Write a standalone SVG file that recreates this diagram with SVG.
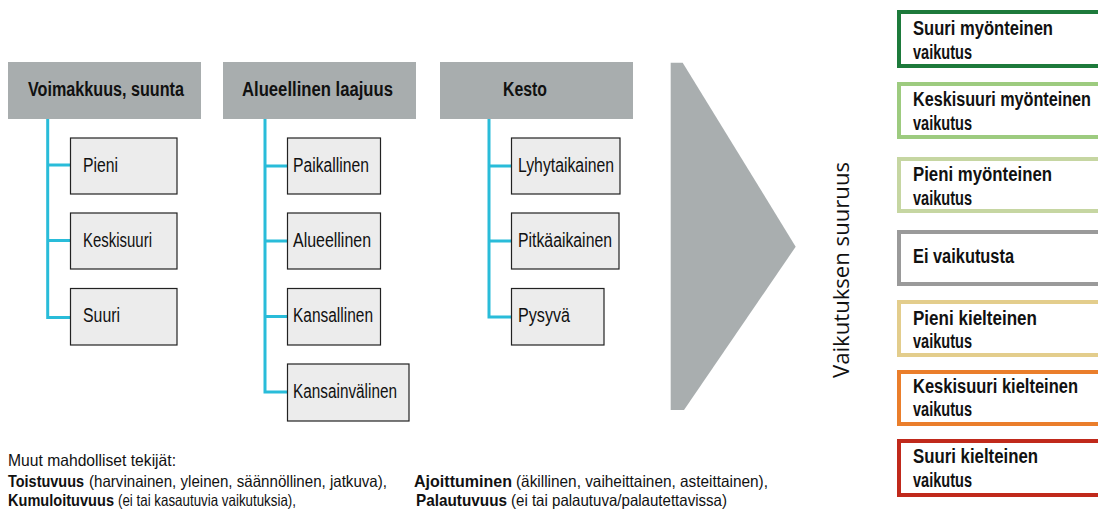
<svg xmlns="http://www.w3.org/2000/svg" width="1098" height="520" viewBox="0 0 1098 520">
<style>
.hdr{fill:#a8adae}
.ht{font-family:"Liberation Sans",Arial,sans-serif;font-weight:bold;font-size:19.5px;fill:#111}
.cb{fill:#ececec;stroke:#222;stroke-width:1.2}
.ct{font-family:"Liberation Sans",Arial,sans-serif;font-size:19.5px;fill:#111}
.conn{fill:none;stroke:#29bcd9;stroke-width:3}
.rb{fill:#fff;stroke-width:4}
.rt{font-family:"Liberation Sans",Arial,sans-serif;font-weight:bold;font-size:19.5px;fill:#111}
.bt{font-family:"Liberation Sans",Arial,sans-serif;font-size:16.5px;fill:#111}
.bb{font-family:"Liberation Sans",Arial,sans-serif;font-weight:bold;font-size:16.5px;fill:#111}
</style>
<rect width="1098" height="520" fill="#fff"/>
<g id="connectors">
<path class="conn" d="M47.7 119V317.5H70M47.7 165H70M47.7 240.5H70"/>
<path class="conn" d="M265 119V392H287M265 166H287M265 241H287M265 316.5H287"/>
<path class="conn" d="M489 119V317H511M489 166H511M489 241H511"/>
</g>
<g id="h1"><rect class="hdr" x="8" y="62" width="193" height="57"/><text class="ht" x="28" y="95.5" textLength="156" lengthAdjust="spacingAndGlyphs">Voimakkuus, suunta</text></g>
<g id="h2"><rect class="hdr" x="223" y="62" width="193" height="57"/><text class="ht" x="242" y="95.5" textLength="151" lengthAdjust="spacingAndGlyphs">Alueellinen laajuus</text></g>
<g id="h3"><rect class="hdr" x="440" y="62" width="193" height="57"/><text class="ht" x="503" y="95.5" textLength="44" lengthAdjust="spacingAndGlyphs">Kesto</text></g>
<g id="c1a"><rect class="cb" x="70.5" y="138" width="106.5" height="56"/><text class="ct" x="83" y="172" textLength="35" lengthAdjust="spacingAndGlyphs">Pieni</text></g>
<g id="c1b"><rect class="cb" x="70.5" y="213" width="106.5" height="56"/><text class="ct" x="83" y="247" textLength="69" lengthAdjust="spacingAndGlyphs">Keskisuuri</text></g>
<g id="c1c"><rect class="cb" x="70.5" y="288.5" width="106.5" height="56.5"/><text class="ct" x="83" y="322" textLength="37" lengthAdjust="spacingAndGlyphs">Suuri</text></g>
<g id="c2a"><rect class="cb" x="287.5" y="138" width="93" height="56"/><text class="ct" x="293" y="172" textLength="76" lengthAdjust="spacingAndGlyphs">Paikallinen</text></g>
<g id="c2b"><rect class="cb" x="287.5" y="213" width="93" height="56"/><text class="ct" x="293" y="247" textLength="78" lengthAdjust="spacingAndGlyphs">Alueellinen</text></g>
<g id="c2c"><rect class="cb" x="287.5" y="288.5" width="93" height="56.5"/><text class="ct" x="293" y="322" textLength="80" lengthAdjust="spacingAndGlyphs">Kansallinen</text></g>
<g id="c2d"><rect class="cb" x="287.5" y="364" width="121.5" height="57"/><text class="ct" x="293" y="398" textLength="104" lengthAdjust="spacingAndGlyphs">Kansainvälinen</text></g>
<g id="c3a"><rect class="cb" x="511.5" y="138" width="108.5" height="56"/><text class="ct" x="518" y="172" textLength="96" lengthAdjust="spacingAndGlyphs">Lyhytaikainen</text></g>
<g id="c3b"><rect class="cb" x="511.5" y="213" width="107.5" height="56"/><text class="ct" x="518" y="247" textLength="94" lengthAdjust="spacingAndGlyphs">Pitkäaikainen</text></g>
<g id="c3c"><rect class="cb" x="511.5" y="288.5" width="92.5" height="56.5"/><text class="ct" x="518" y="322" textLength="52" lengthAdjust="spacingAndGlyphs">Pysyvä</text></g>
<g id="arrow"><polygon points="670.7,62.7 682.7,62.7 795.7,246.7 684,410 670.7,410" fill="#a9aeaf"/></g>
<g id="axis"><text transform="translate(849,270) rotate(-90)" text-anchor="middle" font-family="'Open Sans','DejaVu Sans',sans-serif" font-size="22" fill="#111" textLength="216" lengthAdjust="spacingAndGlyphs">Vaikutuksen suuruus</text></g>
<g id="r1"><rect class="rb" x="899" y="12" width="220" height="54" stroke="#1d7a3b"/><text class="rt" x="913" y="35" textLength="140" lengthAdjust="spacingAndGlyphs">Suuri myönteinen</text><text class="rt" x="913" y="59" textLength="59" lengthAdjust="spacingAndGlyphs">vaikutus</text></g>
<g id="r2"><rect class="rb" x="899" y="84" width="220" height="53" stroke="#9dcb7f"/><text class="rt" x="913" y="106" textLength="178" lengthAdjust="spacingAndGlyphs">Keskisuuri myönteinen</text><text class="rt" x="913" y="130" textLength="59" lengthAdjust="spacingAndGlyphs">vaikutus</text></g>
<g id="r3"><rect class="rb" x="899" y="159" width="220" height="52" stroke="#c6d6a2"/><text class="rt" x="913" y="181" textLength="139" lengthAdjust="spacingAndGlyphs">Pieni myönteinen</text><text class="rt" x="913" y="205" textLength="59" lengthAdjust="spacingAndGlyphs">vaikutus</text></g>
<g id="r4"><rect class="rb" x="899" y="232" width="220" height="52" stroke="#9a9a9a"/><text class="rt" x="913" y="263" textLength="101" lengthAdjust="spacingAndGlyphs">Ei vaikutusta</text></g>
<g id="r5"><rect class="rb" x="899" y="302" width="220" height="53" stroke="#e3cd8c"/><text class="rt" x="913" y="325" textLength="124" lengthAdjust="spacingAndGlyphs">Pieni kielteinen</text><text class="rt" x="913" y="348" textLength="59" lengthAdjust="spacingAndGlyphs">vaikutus</text></g>
<g id="r6"><rect class="rb" x="899" y="372" width="220" height="52" stroke="#ea7e2b"/><text class="rt" x="913" y="393" textLength="165" lengthAdjust="spacingAndGlyphs">Keskisuuri kielteinen</text><text class="rt" x="913" y="416" textLength="59" lengthAdjust="spacingAndGlyphs">vaikutus</text></g>
<g id="r7"><rect class="rb" x="899" y="441" width="220" height="54" stroke="#c0291b"/><text class="rt" x="913" y="463" textLength="125" lengthAdjust="spacingAndGlyphs">Suuri kielteinen</text><text class="rt" x="913" y="487" textLength="59" lengthAdjust="spacingAndGlyphs">vaikutus</text></g>
<g id="notes">
<text class="bt" x="8" y="466" textLength="168" lengthAdjust="spacingAndGlyphs">Muut mahdolliset tekijät:</text>
<text class="bb" x="8" y="487" textLength="76" lengthAdjust="spacingAndGlyphs">Toistuvuus</text>
<text class="bt" x="89" y="487" textLength="298" lengthAdjust="spacingAndGlyphs">(harvinainen, yleinen, säännöllinen, jatkuva),</text>
<text class="bb" x="8" y="506" textLength="106" lengthAdjust="spacingAndGlyphs">Kumuloituvuus</text>
<text class="bt" x="118" y="506" textLength="178" lengthAdjust="spacingAndGlyphs">(ei tai kasautuvia vaikutuksia),</text>
<text class="bb" x="414" y="487" textLength="98" lengthAdjust="spacingAndGlyphs">Ajoittuminen</text>
<text class="bt" x="516" y="487" textLength="252" lengthAdjust="spacingAndGlyphs">(äkillinen, vaiheittainen, asteittainen),</text>
<text class="bb" x="416" y="506" textLength="91" lengthAdjust="spacingAndGlyphs">Palautuvuus</text>
<text class="bt" x="511" y="506" textLength="216" lengthAdjust="spacingAndGlyphs">(ei tai palautuva/palautettavissa)</text>
</g>
</svg>
